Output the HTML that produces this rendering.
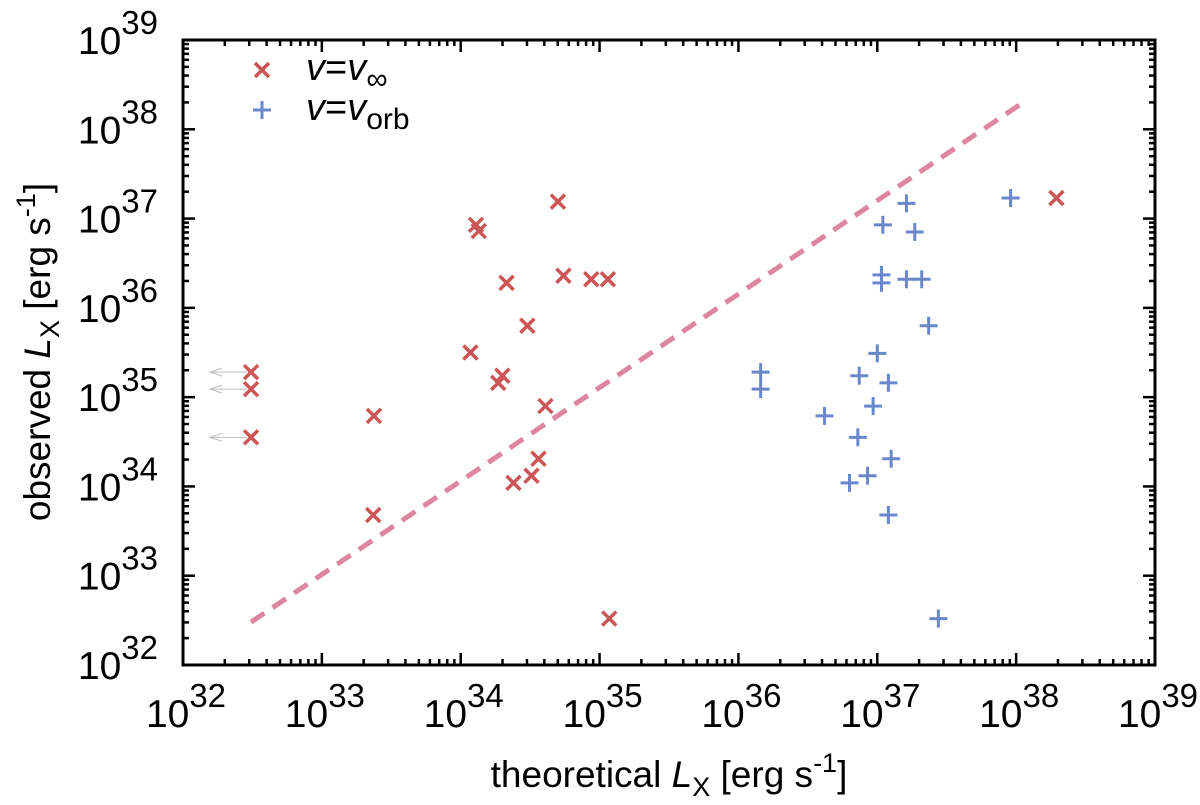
<!DOCTYPE html>
<html><head><meta charset="utf-8"><style>
html,body{margin:0;padding:0;background:#fff}
svg{display:block;font-family:"Liberation Sans",sans-serif}
</style></head><body>
<svg id="chart" width="1200" height="805" viewBox="0 0 1200 805" xmlns="http://www.w3.org/2000/svg"></svg>
<script>
// data: log10 luminosities
const redX = [32.49,32.49,32.49,33.375,33.37,34.07,34.27,34.30,34.11,34.13,34.33,34.48,34.70,34.74,34.94,35.06,34.61,34.38,34.51,34.56,35.07,38.29];
const redY = [35.28,35.09,34.55,34.79,33.68,35.50,35.16,35.24,36.93,36.86,36.28,35.80,37.19,36.36,36.32,36.32,34.90,34.04,34.12,34.31,32.52,37.23];
const upperLimitIdx = [0,1,2];
const blueX = [37.21,37.04,37.27,37.03,37.03,37.21,37.32,37.37,37.00,36.87,37.08,36.97,36.62,36.86,37.10,36.93,36.80,37.08,37.96,36.16,36.16,37.44];
const blueY = [37.17,36.93,36.85,36.37,36.28,36.32,36.32,35.80,35.49,35.24,35.16,34.90,34.79,34.55,34.31,34.12,34.04,33.68,37.23,35.28,35.09,32.52];
const lineX = [32.49,38.04];
const lineY = [32.48,38.29];
const tickExps = [32,33,34,35,36,37,38,39];

const L=183,R=1155,T=40,B=665;
const sx=v=>L+(v-32)/7*(R-L);
const sy=v=>B-(v-32)/7*(B-T);
const svg=document.getElementById('chart');
const NS='http://www.w3.org/2000/svg';
function mk(tag,attrs,parent){const e=document.createElementNS(NS,tag);for(const k in attrs)e.setAttribute(k,attrs[k]);(parent||svg).appendChild(e);return e;}

const ticks=mk('g',{stroke:'#000','stroke-width':2.5});


for(let d=32;d<39;d++){for(let m=1;m<10;m++){
  const v=d+Math.log10(m); const len=m===1?12:6;
  const x=sx(v),y=sy(v);
  mk('line',{x1:x,y1:B,x2:x,y2:B-len},ticks);mk('line',{x1:x,y1:T,x2:x,y2:T+len},ticks);
  mk('line',{x1:L,y1:y,x2:L+len,y2:y},ticks);mk('line',{x1:R,y1:y,x2:R-len,y2:y},ticks);
}}
tickExps.forEach(e=>{
  const tx=mk('text',{x:sx(e)+3,y:727,'font-size':39,'text-anchor':'middle'});
  
  
  tx.innerHTML='10<tspan dy="-20" font-size="33">'+e+'</tspan>';
  const ty=mk('text',{x:158,y:sy(e)+14,'font-size':39,'text-anchor':'end'});
  
  
  ty.innerHTML='10<tspan dy="-20" font-size="33">'+e+'</tspan>';
});
const dl=mk('line',{x1:sx(lineX[0]),y1:sy(lineY[0]),x2:sx(lineX[1]),y2:sy(lineY[1]),stroke:'#dc86a0','stroke-width':5,'stroke-dasharray':'16,10'});


upperLimitIdx.forEach(i=>{
  const x=sx(redX[i]),y=sy(redY[i]);
  const g=mk('g',{stroke:'#bbb','stroke-width':1,fill:'none'});
  
  
  mk('line',{x1:x-4,y1:y,x2:210,y2:y},g);
  mk('polyline',{points:'222,'+(y-4)+' 210,'+y+' 222,'+(y+4)},g);
});
function cross(x,y,parent){const g=mk('g',{stroke:'#cc5555','stroke-width':3.5},parent);mk('line',{x1:x-7,y1:y-7,x2:x+7,y2:y+7},g);mk('line',{x1:x-7,y1:y+7,x2:x+7,y2:y-7},g);return g;}
function plus(x,y,parent){const g=mk('g',{stroke:'#6a87cc','stroke-width':3},parent);mk('line',{x1:x-9,y1:y,x2:x+9,y2:y},g);mk('line',{x1:x,y1:y-9,x2:x,y2:y+9},g);return g;}
redX.forEach((v,i)=>{const g=cross(sx(v),sy(redY[i]));
  
  });
blueX.forEach((v,i)=>{const g=plus(sx(v),sy(blueY[i]));
  
  });
const fr=mk('rect',{x:L,y:T,width:R-L,height:B-T,fill:'none',stroke:'#000','stroke-width':3});


const lg=mk('g',{});


const l1=cross(262,70,lg);


const l2=plus(262,110,lg);


const t1=mk('text',{x:306,y:80,'font-size':38},lg);


t1.innerHTML='<tspan font-style="italic">v</tspan>=<tspan font-style="italic">v</tspan><tspan dy="9" font-size="30">∞</tspan>';
const t2=mk('text',{x:306,y:120,'font-size':38},lg);


t2.innerHTML='<tspan font-style="italic">v</tspan>=<tspan font-style="italic">v</tspan><tspan dy="9" font-size="30">orb</tspan>';
const xt=mk('text',{x:669,y:787,'font-size':37,'text-anchor':'middle'});


xt.innerHTML='theoretical <tspan font-style="italic">L</tspan><tspan dy="9" font-size="27">X</tspan><tspan dy="-9"> [erg s</tspan><tspan dy="-15" font-size="27">-1</tspan><tspan dy="15">]</tspan>';
const yt=mk('text',{x:0,y:0,'font-size':37,'text-anchor':'middle',transform:'translate(50,352) rotate(-90)'});


yt.innerHTML='observed <tspan font-style="italic">L</tspan><tspan dy="9" font-size="27">X</tspan><tspan dy="-9"> [erg s</tspan><tspan dy="-15" font-size="27">-1</tspan><tspan dy="15">]</tspan>';
</script>
</body></html>
